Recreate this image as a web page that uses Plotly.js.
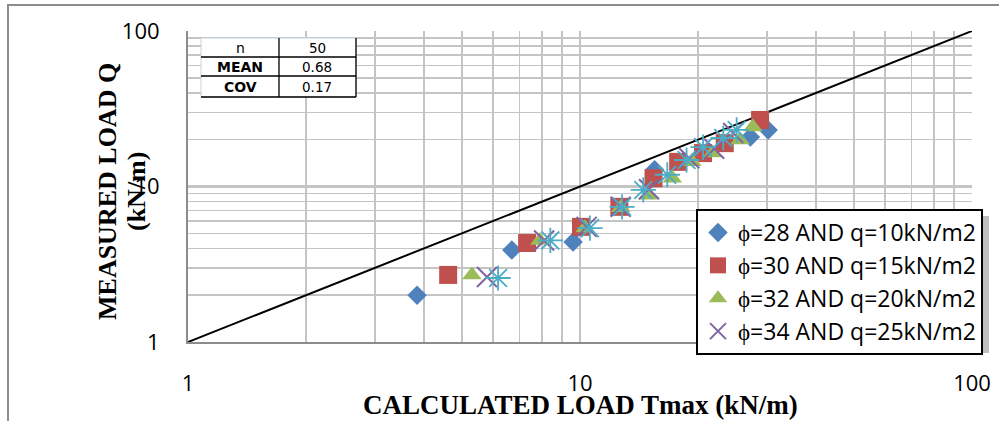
<!DOCTYPE html>
<html>
<head>
<meta charset="utf-8">
<script src="https://cdn.plot.ly/plotly-3.0.1.min.js"></script>
<style>html,body{margin:0;padding:0;background:#fff;}#chart{width:999px;height:421px;}</style>
</head>
<body>
<div id="chart"></div>
<script>
// ---- data ----
const seriesNames = ['ϕ=28 AND q=10kN/m2', 'ϕ=30 AND q=15kN/m2', 'ϕ=32 AND q=20kN/m2', 'ϕ=34 AND q=25kN/m2', 'extra'];
const s1x = [3.84, 6.7, 9.6, 15.5, 27.2, 30.2];
const s1y = [2.0, 3.9, 4.4, 12.8, 20.8, 23.1];
const s2x = [4.61, 7.33, 10.06, 12.6, 15.4, 17.8, 20.6, 23.4, 28.8];
const s2y = [2.70, 4.33, 5.5, 7.4, 11.3, 14.4, 16.4, 19.0, 26.8];
const s3x = [5.3, 7.9, 10.3, 12.7, 14.9, 17.2, 19.3, 21.8, 25.6, 27.6];
const s3y = [2.70, 4.5, 5.4, 7.3, 8.8, 11.3, 14.4, 16.4, 19.9, 24.1];
const s4x = [5.79, 8.1, 10.4, 12.7, 15.0, 19.0, 22.0, 24.6];
const s4y = [2.62, 4.5, 5.5, 7.4, 9.6, 15.2, 17.5, 22.1];
const s5x = [6.18, 8.4, 10.6, 12.8, 14.5, 16.7, 18.7, 20.6, 23.2, 25.1];
const s5y = [2.58, 4.5, 5.4, 7.4, 9.5, 11.9, 14.8, 17.9, 20.5, 23.1];
const lineX = [1, 100];
const lineY = [1, 100];
const tableLabels = ['n', 'MEAN', 'COV'];
const tableValues = ['50', '0.68', '0.17'];
const tickVals = [1,2,3,4,5,6,7,8,9,10,20,30,40,50,60,70,80,90,100];
const tickText = ['1','','','','','','','','','10','','','','','','','','','100'];
const xTitle = 'CALCULATED LOAD Tmax (kN/m)';
const yTitle1 = 'MEASURED LOAD Q';
const yTitle2 = '(kN/m)';

// ---- geometry helpers (pixel -> paper) ----
const L = 188, R = 972, T = 31, B = 342;
const px = v => (v - L) / (R - L);
const py = v => (B - v) / (B - T);

const traces = [
  {x: lineX, y: lineY, mode: 'lines', line: {color: '#000', width: 2}, showlegend: false, hoverinfo: 'skip'},
  {x: s1x, y: s1y, mode: 'markers', name: seriesNames[0], legendgroup: 'a',
   marker: {symbol: 'diamond', size: 15, color: '#4F81BD'}},
  {x: s2x, y: s2y, mode: 'markers', name: seriesNames[1], legendgroup: 'b',
   marker: {symbol: 'square', size: 18, color: '#C0504D'}},
  {x: s3x, y: s3y, mode: 'markers', name: seriesNames[2], legendgroup: 'c',
   marker: {symbol: 'triangle-up', size: 17, color: '#9BBB59'}},
  {x: s4x, y: s4y, mode: 'markers', name: seriesNames[3], legendgroup: 'd',
   marker: {symbol: 'x-thin-open', size: 20, color: '#8064A2', line: {color: '#8064A2', width: 2}}},
  {x: s5x, y: s5y, mode: 'markers', name: seriesNames[4], showlegend: false,
   marker: {symbol: 'asterisk-open', size: 21, color: '#4BACC6', line: {color: '#4BACC6', width: 1.8}}}
];

const shapes = [
  // darker major gridlines
  {type: 'line', xref: 'paper', yref: 'paper', x0: 0.5, x1: 0.5, y0: 0, y1: 1, line: {color: '#8c8c8c', width: 2}, layer: 'between'},
  {type: 'line', xref: 'paper', yref: 'paper', x0: 0, x1: 1, y0: 0.5, y1: 0.5, line: {color: '#8c8c8c', width: 2}, layer: 'between'},
  // table
  {type: 'rect', xref: 'paper', yref: 'paper', x0: px(201), x1: px(356), y0: py(97), y1: py(38), fillcolor: '#fff', line: {color: '#c6d3e3', width: 1}, layer: 'above'},
  {type: 'line', xref: 'paper', yref: 'paper', x0: px(279), x1: px(279), y0: py(97), y1: py(38), line: {color: '#000', width: 1.3}, layer: 'above'},
  {type: 'line', xref: 'paper', yref: 'paper', x0: px(201), x1: px(356), y0: py(57), y1: py(57), line: {color: '#000', width: 1.3}, layer: 'above'},
  {type: 'line', xref: 'paper', yref: 'paper', x0: px(201), x1: px(356), y0: py(76), y1: py(76), line: {color: '#000', width: 1.3}, layer: 'above'},
  {type: 'line', xref: 'paper', yref: 'paper', x0: px(201), x1: px(356), y0: py(97), y1: py(97), line: {color: '#000', width: 1.3}, layer: 'above'},
  {type: 'line', xref: 'paper', yref: 'paper', x0: px(356), x1: px(356), y0: py(97), y1: py(38), line: {color: '#000', width: 1.3}, layer: 'above'},
  // legend shadow
  {type: 'rect', xref: 'paper', yref: 'paper', x0: px(702), x1: px(989), y0: py(353), y1: py(216), fillcolor: 'rgba(0,0,0,0.25)', line: {width: 0}, layer: 'above'},
  // outer chart border
  {type: 'rect', xref: 'paper', yref: 'paper', x0: px(8), x1: px(1010), y0: py(430), y1: py(5), line: {color: '#8c8c8c', width: 2}, layer: 'above'}
];

const annotations = [
  {xref: 'paper', yref: 'paper', x: 0.5, y: py(405), text: '<b>' + xTitle + '</b>', showarrow: false,
   font: {family: 'Liberation Serif', size: 27, color: '#000'}, xanchor: 'center', yanchor: 'middle'},
  {xref: 'paper', yref: 'paper', x: px(108), y: py(192), text: '<b>' + yTitle1 + '</b>', showarrow: false, textangle: -90,
   font: {family: 'Liberation Serif', size: 26, color: '#000'}, xanchor: 'center', yanchor: 'middle'},
  {xref: 'paper', yref: 'paper', x: px(137), y: py(192), text: '<b>' + yTitle2 + '</b>', showarrow: false, textangle: -90,
   font: {family: 'Liberation Serif', size: 26, color: '#000'}, xanchor: 'center', yanchor: 'middle'}
];
const rowCenters = [47.5, 66.5, 86.5];
tableLabels.forEach((lab, i) => {
  annotations.push({xref: 'paper', yref: 'paper', x: px(240), y: py(rowCenters[i]), text: i === 0 ? lab : '<b>' + lab + '</b>',
    showarrow: false, font: {family: 'DejaVu Sans', size: 14, color: '#000'}, xanchor: 'center', yanchor: 'middle'});
  annotations.push({xref: 'paper', yref: 'paper', x: px(317), y: py(rowCenters[i]), text: tableValues[i],
    showarrow: false, font: {family: 'DejaVu Sans', size: 13.5, color: '#000'}, xanchor: 'center', yanchor: 'middle'});
});

const axisCommon = {
  type: 'log', tickvals: tickVals, ticktext: tickText, showgrid: true, gridcolor: '#c4c4c4', gridwidth: 1.5,
  showline: true, linecolor: '#8c8c8c', linewidth: 2, ticks: '', zeroline: false,
  tickfont: {family: 'Open Sans', size: 22, color: '#000'}, mirror: false
};

const layout = {
  width: 999, height: 421,
  margin: {l: L, r: 999 - R, t: T, b: 421 - B, pad: 0},
  paper_bgcolor: '#fff', plot_bgcolor: 'rgba(0,0,0,0)',
  xaxis: Object.assign({}, axisCommon, {range: [0, 2], ticklabelstandoff: 21}),
  yaxis: Object.assign({}, axisCommon, {range: [0, 2], ticklabelstandoff: 22}),
  showlegend: true,
  legend: {x: px(696), y: py(209), xanchor: 'left', yanchor: 'top', bgcolor: '#fff', bordercolor: '#000', borderwidth: 2,
    font: {family: 'Open Sans', size: 23, color: '#000'}, tracegroupgap: 0, itemclick: false},
  shapes: shapes, annotations: annotations
};

Plotly.newPlot('chart', traces, layout, {staticPlot: true, displayModeBar: false});
</script>
</body>
</html>
